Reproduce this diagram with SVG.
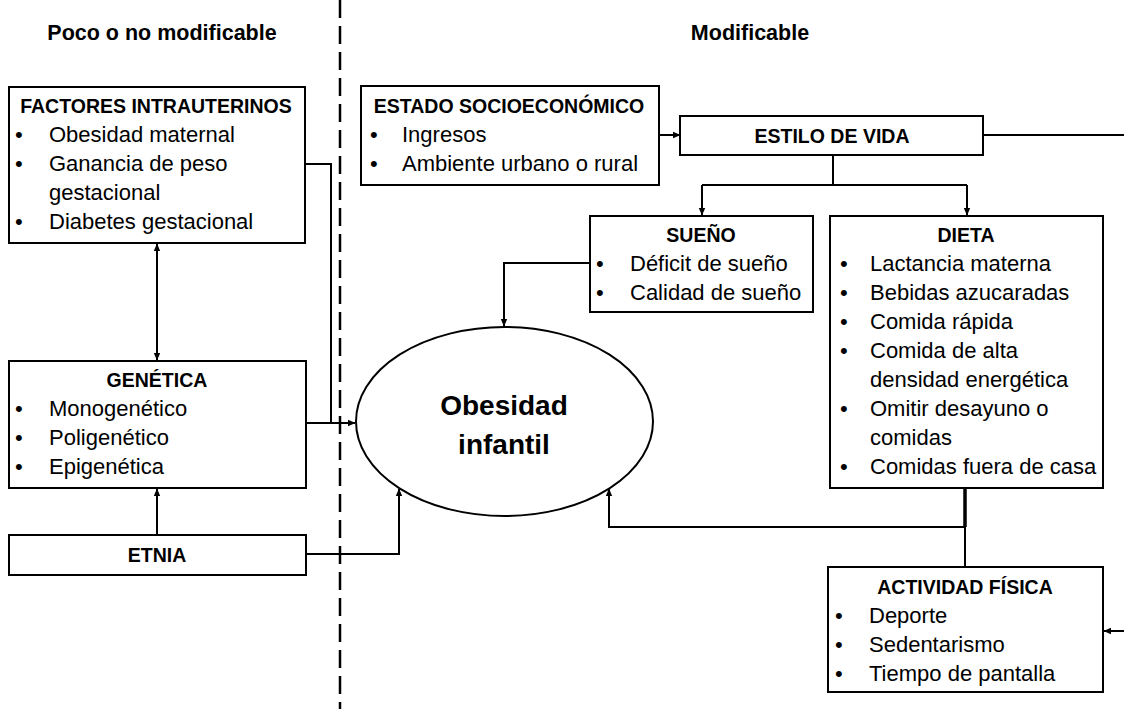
<svg xmlns="http://www.w3.org/2000/svg" width="1124" height="709" viewBox="0 0 1124 709">
<defs>
<marker id="arr" markerWidth="8" markerHeight="8" refX="7" refY="4" orient="auto" markerUnits="userSpaceOnUse">
<path d="M0,0.8 L7.5,4 L0,7.2 Z" fill="#000"/>
</marker>
<marker id="arrs" markerWidth="8" markerHeight="8" refX="0.5" refY="4" orient="auto" markerUnits="userSpaceOnUse">
<path d="M7.5,0.8 L0,4 L7.5,7.2 Z" fill="#000"/>
</marker>
<style>
text{font-family:"Liberation Sans",Arial,sans-serif;fill:#000}
.t{font-size:19.5px;font-weight:bold;text-anchor:middle}
.h{font-size:21.5px;font-weight:bold;text-anchor:middle}
.i{font-size:22px}
.b{font-size:22px}
.box{fill:#fff;stroke:#000;stroke-width:2}
.c{fill:none;stroke:#000;stroke-width:2}
.big{font-size:28px;font-weight:bold;text-anchor:middle}
</style>
</defs>
<rect width="1124" height="709" fill="#fff"/>
<g id="divider">
<line x1="340" y1="0" x2="340" y2="709" stroke="#000" stroke-width="2.5" stroke-dasharray="18 8"/>
</g>
<g id="headers">
<text class="h" x="162" y="40">Poco o no modificable</text>
<text class="h" x="750" y="40">Modificable</text>
</g>
<g id="connectors">
<path class="c" d="M306,164 H331 V423"/>
<path class="c" d="M306,423 H355" marker-end="url(#arr)"/>
<path class="c" d="M157,244 V360" marker-start="url(#arrs)" marker-end="url(#arr)"/>
<path class="c" d="M157,535 V489" marker-end="url(#arr)"/>
<path class="c" d="M306,554 H399 V489" marker-end="url(#arr)"/>
<path class="c" d="M659,135 H680" marker-end="url(#arr)"/>
<path class="c" d="M983,135 H1124"/>
<path class="c" d="M1124,631 H1104" marker-end="url(#arr)"/>
<path class="c" d="M833,155 V185 M702,185 H967"/>
<path class="c" d="M702,185 V215" marker-end="url(#arr)"/>
<path class="c" d="M967,185 V215" marker-end="url(#arr)"/>
<path class="c" d="M590,263 H504 V326" marker-end="url(#arr)"/>
<path class="c" d="M965,488 V527 H609 V489" marker-end="url(#arr)"/>
<path class="c" d="M965,488 V527" style="stroke-width:3.5"/>
<path class="c" d="M965,567 V527"/>
</g>
<g id="factores">
<rect class="box" x="9" y="87" width="296" height="156"/>
<text class="t" x="156" y="113">FACTORES INTRAUTERINOS</text>
<text class="b" x="15" y="142">•</text><text class="i" x="49" y="142">Obesidad maternal</text>
<text class="b" x="15" y="171">•</text><text class="i" x="49" y="171">Ganancia de peso</text>
<text class="i" x="49" y="200">gestacional</text>
<text class="b" x="15" y="229">•</text><text class="i" x="49" y="229">Diabetes gestacional</text>
</g>
<g id="genetica">
<rect class="box" x="9" y="361" width="297" height="127"/>
<text class="t" x="157" y="387">GENÉTICA</text>
<text class="b" x="15" y="416">•</text><text class="i" x="49" y="416">Monogenético</text>
<text class="b" x="15" y="445">•</text><text class="i" x="49" y="445">Poligenético</text>
<text class="b" x="15" y="474">•</text><text class="i" x="49" y="474">Epigenética</text>
</g>
<g id="etnia">
<rect class="box" x="9" y="535" width="297" height="40"/>
<text class="t" x="157" y="562">ETNIA</text>
</g>
<g id="estado">
<rect class="box" x="361" y="86" width="298" height="99"/>
<text class="t" x="509" y="113">ESTADO SOCIOECONÓMICO</text>
<text class="b" x="370" y="142">•</text><text class="i" x="402" y="142">Ingresos</text>
<text class="b" x="370" y="171">•</text><text class="i" x="402" y="171">Ambiente urbano o rural</text>
</g>
<g id="estilo">
<rect class="box" x="680" y="116" width="303" height="39"/>
<text class="t" x="832" y="143">ESTILO DE VIDA</text>
</g>
<g id="sueno">
<rect class="box" x="590" y="216" width="223" height="96"/>
<text class="t" x="701" y="242">SUEÑO</text>
<text class="b" x="596" y="271">•</text><text class="i" x="630" y="271">Déficit de sueño</text>
<text class="b" x="596" y="300">•</text><text class="i" x="630" y="300">Calidad de sueño</text>
</g>
<g id="dieta">
<rect class="box" x="830" y="216" width="273" height="272"/>
<text class="t" x="966" y="242">DIETA</text>
<text class="b" x="840" y="271">•</text><text class="i" x="870" y="271">Lactancia materna</text>
<text class="b" x="840" y="300">•</text><text class="i" x="870" y="300">Bebidas azucaradas</text>
<text class="b" x="840" y="329">•</text><text class="i" x="870" y="329">Comida rápida</text>
<text class="b" x="840" y="358">•</text><text class="i" x="870" y="358">Comida de alta</text>
<text class="i" x="870" y="387">densidad energética</text>
<text class="b" x="840" y="416">•</text><text class="i" x="870" y="416">Omitir desayuno o</text>
<text class="i" x="870" y="445">comidas</text>
<text class="b" x="840" y="474">•</text><text class="i" x="870" y="474">Comidas fuera de casa</text>
</g>
<g id="actividad">
<rect class="box" x="828" y="567" width="275" height="125"/>
<text class="t" x="965" y="594">ACTIVIDAD FÍSICA</text>
<text class="b" x="835" y="623">•</text><text class="i" x="869" y="623">Deporte</text>
<text class="b" x="835" y="652">•</text><text class="i" x="869" y="652">Sedentarismo</text>
<text class="b" x="835" y="681">•</text><text class="i" x="869" y="681">Tiempo de pantalla</text>
</g>
<g id="obesidad">
<ellipse cx="504.5" cy="421.5" rx="148.5" ry="94.5" fill="#fff" stroke="#000" stroke-width="2"/>
<text class="big" x="504" y="415">Obesidad</text>
<text class="big" x="504" y="454">infantil</text>
</g>
</svg>
